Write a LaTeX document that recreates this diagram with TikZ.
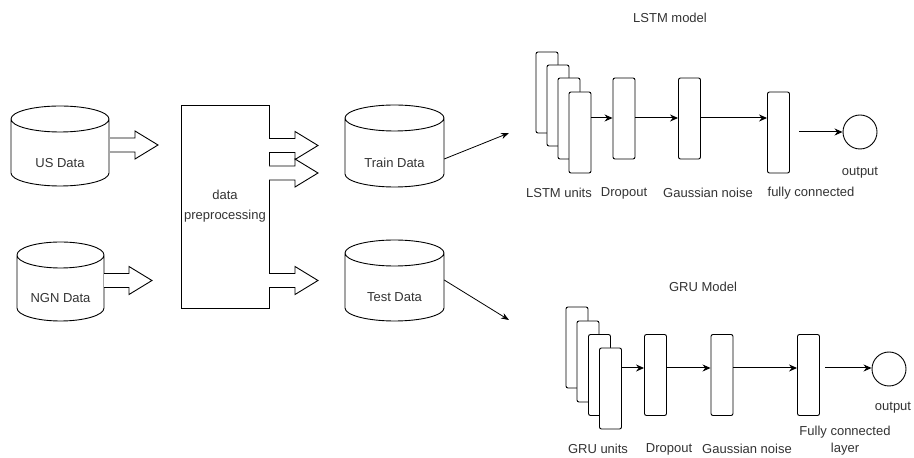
\documentclass[tikz,border=0pt]{standalone}
\usepackage{fontspec}
\setmainfont{Liberation Sans}
\usetikzlibrary{arrows.meta,calc}
\tikzset{
  lbl/.style={font=\fontsize{13}{20}\selectfont, text=black!80, inner sep=0pt},
  layer/.style={draw, rounded corners=2pt, fill=white, minimum width=22pt, minimum height=81pt, inner sep=0pt, line width=0.9pt},
  conn/.style={-{Stealth[length=8pt,width=7pt]}, line width=1pt},
  thinconn/.style={-{Stealth[length=8pt,width=6pt]}, line width=0.8pt},
  barrow/.style={draw, fill=white, line width=0.9pt},
  cylline/.style={draw, line width=0.9pt},
  outc/.style={draw, circle, minimum size=34pt, inner sep=0pt, line width=0.9pt},
  prebox/.style={draw, minimum width=88pt, minimum height=203pt, inner sep=0pt, line width=0.9pt, align=center}
}
% cylinder: name, cx, cy, half width, half height
\newcommand\mycyl[5]{%
  \node[inner sep=0pt, minimum width=#4*2pt, minimum height=#5*2pt] (#1) at (#2,#3) {};
  \draw[cylline] (#2-#4,#3+#5-13) -- (#2-#4,#3-#5+13)
    arc[start angle=180,end angle=360,x radius=#4pt,y radius=13pt]
    -- (#2+#4,#3+#5-13)
    arc[start angle=0,end angle=180,x radius=#4pt,y radius=13pt]
    arc[start angle=180,end angle=360,x radius=#4pt,y radius=13pt];
}
% block arrow: x start, x tip, y centre
\newcommand\myblock[3]{%
  \draw[barrow] (#1,#3+7) -- (#2-23,#3+7) -- (#2-23,#3+14) -- (#2,#3) -- (#2-23,#3-14) -- (#2-23,#3-7) -- (#1,#3-7);
}
\begin{document}
\begin{tikzpicture}[x=1pt,y=1pt]
\useasboundingbox (0,0) rectangle (914,458);

% data sources
\mycyl{us}{60}{312}{49}{40}
\node[lbl] (uslbl) at (60,295) {US Data};
\mycyl{ngn}{60.5}{176.5}{43.5}{39.5}
\node[lbl] (ngnlbl) at (60.5,160) {NGN Data};

\myblock{110}{158}{313}
\myblock{104}{152}{177.5}

% preprocessing
\node[prebox, lbl, draw=black, line width=0.9pt, font=\fontsize{13}{20}\selectfont] (pre) at (225,251.5) {data\\preprocessing};

\myblock{269}{318}{312.5}
\myblock{269}{318}{285}
\myblock{269}{318}{177.5}

% train / test
\mycyl{train}{394.5}{312}{49.5}{41}
\node[lbl] (trainlbl) at (394.5,295) {Train Data};
\mycyl{test}{394.5}{177.5}{49.5}{40.5}
\node[lbl] (testlbl) at (394.5,161) {Test Data};

\coordinate (lstmin) at (509,325);
\coordinate (gruin) at (509,138);
\draw[thinconn] ($(train.east)+(0,-13)$) -- (lstmin);
\draw[thinconn] ($(test.east)+(0,0.5)$) -- (gruin);

% LSTM model
\node[lbl] (lstmtitle) at (670,440) {LSTM model};
\node[layer] (l1) at (547,365.5) {};
\node[layer] (l2) at (558,352.5) {};
\node[layer] (l3) at (569,339.5) {};
\node[layer] (l4) at (580,325.5) {};
\node[layer] (ld) at (624,339.5) {};
\node[layer] (lg) at (689.5,339.5) {};
\node[layer] (lf) at (778.5,325.5) {};
\node[outc] (lo) at (860,326) {};
\coordinate (lfout) at (799,326);
\draw[conn] (l4.east |- 0,340) -- (ld.west |- 0,340);
\draw[conn] (ld.east |- 0,340) -- (lg.west |- 0,340);
\draw[conn] (lg.east |- 0,340) -- (lf.west |- 0,340);
\draw[conn] (lfout) -- (lo.west);
\node[lbl] (lul) at (559,265) {LSTM units};
\node[lbl] (ldl) at (624,265) {Dropout};
\node[lbl] (lgl) at (708,265) {Gaussian noise};
\node[lbl] (lfl) at (811,265) {fully connected};
\node[lbl] (lol) at (860,285) {output};

% GRU model
\node[lbl] (grutitle) at (703,171) {GRU Model};
\node[layer] (g1) at (577,110.5) {};
\node[layer] (g2) at (588,96.5) {};
\node[layer] (g3) at (599.5,83) {};
\node[layer] (g4) at (610.5,69.5) {};
\node[layer] (gd) at (655.5,83) {};
\node[layer] (gg) at (722,83) {};
\node[layer] (gf) at (808.5,83) {};
\node[outc] (go) at (889,89) {};
\coordinate (gfout) at (825,90);
\draw[conn] (g4.east |- 0,90) -- (gd.west |- 0,90);
\draw[conn] (gd.east |- 0,90) -- (gg.west |- 0,90);
\draw[conn] (gg.east |- 0,90) -- (gf.west |- 0,90);
\draw[conn] (gfout) -- (go.west |- 0,90);
\node[lbl] (gul) at (598,9) {GRU units};
\node[lbl] (gdl) at (669,9) {Dropout};
\node[lbl] (ggl) at (747,9) {Gaussian noise};
\node[lbl, align=center, font=\fontsize{13}{17}\selectfont] (gfl) at (845,17.5) {Fully connected\\layer};
\node[lbl] (gol) at (893,50) {output};
\end{tikzpicture}
\end{document}
